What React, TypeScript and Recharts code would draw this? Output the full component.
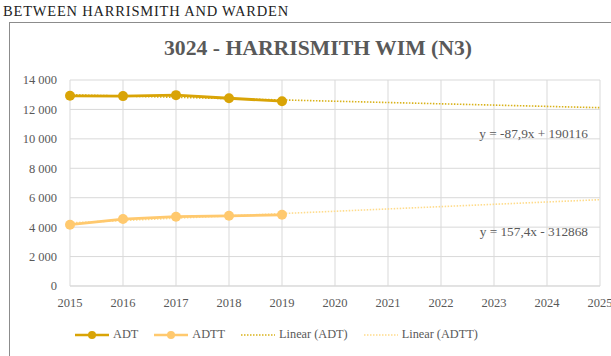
import { LineChart, Line, XAxis, YAxis, CartesianGrid } from "recharts";

// Count years and observed traffic volumes
const years = [2015, 2016, 2017, 2018, 2019, 2020, 2021, 2022, 2023, 2024, 2025];
const adt = [12925, 12905, 12970, 12760, 12560];
const adtt = [4165, 4550, 4710, 4770, 4840];
const yTicks = [0, 2000, 4000, 6000, 8000, 10000, 12000, 14000];

// Trendline coefficients, as printed on the chart
const adtTrend = { slope: -87.9, intercept: 190116, label: "y = -87,9x + 190116" };
const adttTrend = { slope: 157.4, intercept: -312868, label: "y = 157,4x - 312868" };

const ADT_CLR = "#D9A406";
const ADTT_CLR = "#FFC96E";
const ADT_TREND_CLR = "#D9B21A";
const ADTT_TREND_CLR = "#FFDC8C";
const TEXT_CLR = "#595959";
const GRID_CLR = "#D9D9D9";
const FONT = "'Liberation Serif', serif";

const data = years.map((year, i) => ({
  year,
  adt: i < adt.length ? adt[i] : undefined,
  adtt: i < adtt.length ? adtt[i] : undefined,
  adtLin: adtTrend.slope * year + adtTrend.intercept,
  adttLin: adttTrend.slope * year + adttTrend.intercept,
}));

const fmt = (v: number) => (v >= 1000 ? `${Math.floor(v / 1000)} ${String(v % 1000).padStart(3, "0")}` : `${v}`);

const legend = [
  { name: "ADT", color: ADT_CLR, dotted: false },
  { name: "ADTT", color: ADTT_CLR, dotted: false },
  { name: "Linear (ADT)", color: ADT_TREND_CLR, dotted: true },
  { name: "Linear (ADTT)", color: ADTT_TREND_CLR, dotted: true },
];

function LegendIcon({ color, dotted }: { color: string; dotted: boolean }) {
  return (
    <svg width={34} height={10} style={{ marginRight: 4 }}>
      {dotted ? (
        <line x1={0} y1={5} x2={34} y2={5} stroke={color} strokeWidth={1.5} strokeDasharray="1.5 1.5" />
      ) : (
        <>
          <line x1={0} y1={5} x2={34} y2={5} stroke={color} strokeWidth={2.5} />
          <circle cx={17} cy={5} r={4} fill={color} />
        </>
      )}
    </svg>
  );
}

export default function App() {
  return (
    <div style={{ position: "fixed", left: 0, top: 0, width: 611, height: 356, overflow: "hidden", background: "#fff", fontFamily: FONT }}>
      <div style={{ position: "absolute", left: 3, top: 3, fontSize: 14.5, letterSpacing: 0.8, color: "#222" }}>
        BETWEEN HARRISMITH AND WARDEN
      </div>
      <div style={{ position: "absolute", left: 9, top: 22, width: 700, height: 400, border: "1.5px solid #8c8c8c" }} />
      <div style={{ position: "absolute", left: 0, top: 36, width: 636, textAlign: "center", fontSize: 21.7, fontWeight: "bold", color: TEXT_CLR }}>
        3024 - HARRISMITH WIM (N3)
      </div>
      <div style={{ position: "absolute", left: 0, top: 0 }}>
        <LineChart width={650} height={356} data={data} margin={{ top: 80, right: 50, bottom: 40, left: 0 }}>
          <CartesianGrid stroke={GRID_CLR} strokeWidth={1} />
          <XAxis
            dataKey="year"
            type="number"
            domain={[2015, 2025]}
            ticks={years}
            height={30}
            axisLine={{ stroke: GRID_CLR }}
            tickLine={false}
            tickSize={0}
            tickMargin={12}
            tick={{ fontSize: 12.5, fill: TEXT_CLR, fontFamily: FONT }}
          />
          <YAxis
            domain={[0, 14000]}
            ticks={yTicks}
            width={70}
            axisLine={false}
            tickLine={false}
            tickSize={0}
            tickMargin={13}
            tickFormatter={fmt}
            tick={{ fontSize: 12.5, fill: TEXT_CLR, fontFamily: FONT }}
          />
          <Line dataKey="adtLin" stroke={ADT_TREND_CLR} strokeWidth={1.6} strokeDasharray="1.5 1.5" dot={false} isAnimationActive={false} />
          <Line dataKey="adttLin" stroke={ADTT_TREND_CLR} strokeWidth={1.6} strokeDasharray="1.5 1.5" dot={false} isAnimationActive={false} />
          <Line dataKey="adt" stroke={ADT_CLR} strokeWidth={2.8} dot={{ r: 5, fill: ADT_CLR, stroke: ADT_CLR, strokeWidth: 0 }} isAnimationActive={false} />
          <Line dataKey="adtt" stroke={ADTT_CLR} strokeWidth={2.8} dot={{ r: 5, fill: ADTT_CLR, stroke: ADTT_CLR, strokeWidth: 0 }} isAnimationActive={false} />
        </LineChart>
      </div>
      <div style={{ position: "absolute", right: 23, top: 126, fontSize: 13.3, color: TEXT_CLR }}>{adtTrend.label}</div>
      <div style={{ position: "absolute", right: 23, top: 224, fontSize: 13.3, color: TEXT_CLR }}>{adttTrend.label}</div>
      <div style={{ position: "absolute", left: 75, top: 327, display: "flex", alignItems: "center", fontSize: 12.3, color: TEXT_CLR }}>
        {legend.map((item) => (
          <div key={item.name} style={{ display: "flex", alignItems: "center", marginRight: 16 }}>
            <LegendIcon color={item.color} dotted={item.dotted} />
            <span>{item.name}</span>
          </div>
        ))}
      </div>
    </div>
  );
}
